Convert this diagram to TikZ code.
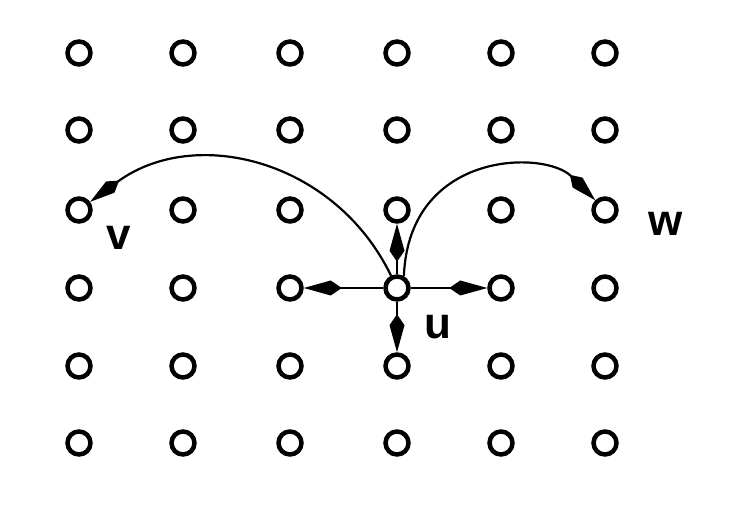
\documentclass[tikz,border=0pt]{standalone}
\usepackage{fontspec}
\setmainfont{Liberation Sans}
\usetikzlibrary{arrows.meta}
\begin{document}
\begin{tikzpicture}[x=1pt,y=-1pt,
  dot/.style={circle,draw,line width=4.5pt,minimum size=23pt,inner sep=0pt},
  edge/.style={line width=2.2pt,-{Kite[length=38pt,width=15pt,inset=11pt]}},
  arc/.style={line width=2.2pt,-{Kite[length=36pt,width=14pt,inset=11pt]}},
  lab/.style={font=\fontsize{44}{44}\selectfont\bfseries,inner sep=0pt}]
\useasboundingbox (0,0) rectangle (740,510);
\foreach \i/\x in {1/79,2/183,3/290,4/397,5/501,6/605}{
  \foreach \j/\y in {1/53,2/130,3/210,4/288,5/366,6/443}{
    \node[dot] (n\i\j) at (\x,\y) {};
  }
}
\draw[edge] (n44) -- (n43);
\draw[edge] (n44) -- (n34);
\draw[edge] (n44) -- (n54);
\draw[edge] (n44) -- (n45);
\draw[arc] (n44) .. controls (335,160) and (195,125) .. (n13);
\draw[arc] (n44.60) .. controls (409,150) and (545,150) .. (n63);
\node[lab] (lv) at (119,238) {v};
\node[lab] (lw) at (666,224) {w};
\node[lab] (lu) at (438,327) {u};
\end{tikzpicture}
\end{document}
